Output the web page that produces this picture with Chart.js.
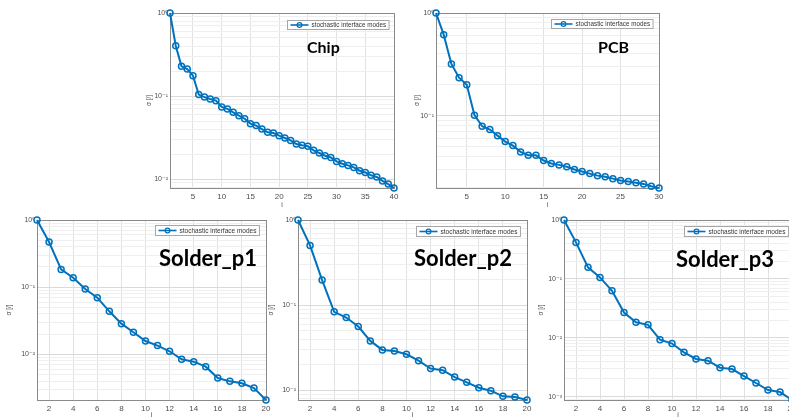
<!DOCTYPE html>
<html>
<head>
<meta charset="utf-8">
<script src="https://cdn.jsdelivr.net/npm/chart.js@4.4.1/dist/chart.umd.min.js"></script>
<style>
  html, body { margin: 0; padding: 0; background: #fff; width: 789px; height: 419px; overflow: hidden; position: relative; }
  canvas { position: absolute; }
</style>
</head>
<body>
<canvas id="chip"></canvas>
<canvas id="pcb"></canvas>
<canvas id="p1"></canvas>
<canvas id="p2"></canvas>
<canvas id="p3"></canvas>
<script>
// ---- data ----
const modeLabel = 'stochastic interface modes';
const sigmaTitle = 'σ [/]';
const indexTitle = 'i';
const panelNames = ['Chip', 'PCB', 'Solder_p1', 'Solder_p2', 'Solder_p3'];

const chipSigma = [1.0, 0.404, 0.228, 0.211, 0.176, 0.104, 0.097, 0.092, 0.088, 0.074,
  0.070, 0.0636, 0.058, 0.0533, 0.0465, 0.044, 0.040, 0.0365, 0.0358, 0.0333,
  0.0312, 0.0292, 0.0264, 0.0255, 0.0248, 0.0222, 0.0206, 0.0191, 0.0182, 0.0163,
  0.0153, 0.0146, 0.0138, 0.0126, 0.0120, 0.0111, 0.0106, 0.0095, 0.0087, 0.0078];
const pcbSigma = [1.0, 0.615, 0.319, 0.234, 0.200, 0.101, 0.0787, 0.0731, 0.0638, 0.0558,
  0.0510, 0.0443, 0.0411, 0.0410, 0.0365, 0.0341, 0.0331, 0.0318, 0.0298, 0.0285,
  0.0272, 0.0260, 0.0253, 0.0243, 0.0233, 0.0228, 0.0222, 0.0216, 0.0205, 0.0197];
const solderP1Sigma = [1.0, 0.47, 0.184, 0.138, 0.094, 0.0698, 0.0437, 0.0286, 0.0213, 0.0158,
  0.0135, 0.0111, 0.00843, 0.00778, 0.00655, 0.00444, 0.00396, 0.00370, 0.00315, 0.00209];
const solderP2Sigma = [1.0, 0.503, 0.197, 0.0835, 0.0716, 0.0561, 0.0380, 0.0298, 0.0290, 0.0265,
  0.0223, 0.0180, 0.0172, 0.0143, 0.0124, 0.0107, 0.0099, 0.0085, 0.00835, 0.00769];
const solderP3Sigma = [1.0, 0.417, 0.157, 0.106, 0.0628, 0.0269, 0.0184, 0.0166, 0.0093, 0.0080,
  0.00567, 0.00437, 0.00409, 0.00311, 0.00295, 0.00224, 0.00171, 0.00130, 0.00120, 0.00088];

const chipTicks = [5, 10, 15, 20, 25, 30, 35, 40];
const pcbTicks = [5, 10, 15, 20, 25, 30];
const solderTicks = [2, 4, 6, 8, 10, 12, 14, 16, 18, 20];

// ---- helpers ----
const SUP = { '-': '⁻', '0': '⁰', '1': '¹', '2': '²', '3': '³', '4': '⁴', '5': '⁵', '6': '⁶', '7': '⁷', '8': '⁸', '9': '⁹' };
function decadeLabel(v) {
  const lg = Math.log10(v);
  const e = Math.round(lg);
  if (Math.abs(lg - e) > 1e-6) return '';
  return '10' + String(e).split('').map(c => SUP[c]).join('');
}
function isDecade(v) {
  const lg = Math.log10(v);
  return Math.abs(lg - Math.round(lg)) < 1e-6;
}
function logTicks(scale) {
  const lo = scale.min, hi = scale.max;
  const out = [];
  for (let k = Math.floor(Math.log10(lo)); k <= Math.ceil(Math.log10(hi)); k++) {
    for (let m = 1; m <= 9; m++) {
      const v = m * Math.pow(10, k);
      if (v >= lo * (1 - 1e-9) && v <= hi * (1 + 1e-9)) out.push({ value: v });
    }
  }
  scale.ticks = out;
}

const BLUE = '#0072BD';
const AXIS = '#8a8a8a';
const TEXT = '#4d4d4d';

// axes box, panel name and in-plot legend
const panelDecor = {
  id: 'panelDecor',
  beforeDatasetsDraw(chart) {
    const { ctx, chartArea: a } = chart;
    ctx.save();
    ctx.strokeStyle = AXIS;
    ctx.lineWidth = 1;
    ctx.strokeRect(Math.round(a.left) + 0.5, Math.round(a.top) + 0.5,
      Math.round(a.right - a.left), Math.round(a.bottom - a.top));
    ctx.restore();
  },
  afterDatasetsDraw(chart, args, opts) {
    const { ctx, chartArea: a } = chart;
    ctx.save();
    // legend box
    ctx.font = opts.legendFont + 'px "Liberation Sans", Arial, sans-serif';
    const tw = ctx.measureText(modeLabel).width;
    const bw = tw + 27, bh = opts.legendH;
    const bx = Math.round(a.right - opts.legendRight - bw) + 0.5;
    const by = Math.round(a.top + opts.legendTop) + 0.5;
    ctx.fillStyle = '#fff';
    ctx.fillRect(bx, by, bw, bh);
    ctx.strokeStyle = '#a6a6a6';
    ctx.lineWidth = 1;
    ctx.strokeRect(bx, by, bw, bh);
    const my = by + bh / 2;
    ctx.strokeStyle = BLUE;
    ctx.lineWidth = 1.6;
    ctx.beginPath();
    ctx.moveTo(bx + 3, my);
    ctx.lineTo(bx + 21, my);
    ctx.stroke();
    ctx.lineWidth = 1.2;
    ctx.beginPath();
    ctx.arc(bx + 12, my, 2.4, 0, Math.PI * 2);
    ctx.stroke();
    ctx.fillStyle = '#333';
    ctx.textBaseline = 'middle';
    ctx.textAlign = 'left';
    ctx.fillText(modeLabel, bx + 24, my + 0.5);
    // panel name
    ctx.font = 'bold ' + opts.nameSize + 'px Lato, "Open Sans", sans-serif';
    ctx.fillStyle = '#000';
    ctx.textBaseline = 'alphabetic';
    ctx.fillText(opts.name, a.left + opts.nameX, a.top + opts.nameBase);
    ctx.restore();
  }
};

function makePanel(id, sigma, xTicks, name, geo) {
  const cv = document.getElementById(id);
  cv.width = geo.w; cv.height = geo.h;
  cv.style.left = geo.x + 'px';
  cv.style.top = geo.y + 'px';
  cv.style.width = geo.w + 'px';
  cv.style.height = geo.h + 'px';
  new Chart(cv, {
    type: 'line',
    data: {
      datasets: [{
        label: modeLabel,
        data: sigma.map((v, i) => ({ x: i + 1, y: v })),
        borderColor: BLUE,
        borderWidth: 2,
        tension: 0,
        pointStyle: 'circle',
        pointRadius: 3,
        pointBorderWidth: 1.5,
        pointBorderColor: BLUE,
        pointBackgroundColor: 'rgba(0,0,0,0)',
        clip: false
      }]
    },
    options: {
      responsive: false,
      animation: false,
      events: [],
      layout: { padding: { top: geo.padTop, right: geo.padRight, left: 0, bottom: 0 } },
      plugins: {
        legend: { display: false },
        tooltip: { enabled: false },
        panelDecor: {
          name: name, nameSize: geo.nameSize, nameX: geo.nameX, nameBase: geo.nameBase,
          legendFont: geo.legendFont, legendH: geo.legendH, legendTop: geo.legendTop, legendRight: geo.legendRight
        }
      },
      scales: {
        x: {
          type: 'linear',
          min: 1,
          max: sigma.length,
          afterBuildTicks: s => { s.ticks = xTicks.map(v => ({ value: v })); },
          afterFit: s => { s.height = geo.xH; },
          ticks: { autoSkip: false, maxRotation: 0, padding: 4, color: TEXT,
            font: { family: '"Liberation Sans", Arial, sans-serif', size: 8 } },
          grid: { color: '#e2e2e2', lineWidth: 1, drawTicks: false },
          border: { display: false },
          title: { display: true, text: indexTitle, color: TEXT, padding: { top: 0, bottom: 0 },
            font: { family: '"Liberation Sans", Arial, sans-serif', size: 7 } }
        },
        y: {
          type: 'logarithmic',
          min: sigma[sigma.length - 1],
          max: 1,
          afterBuildTicks: logTicks,
          afterFit: s => { s.width = geo.yW; },
          ticks: { autoSkip: false, padding: 2, color: TEXT,
            font: { family: '"Liberation Sans", "DejaVu Sans", sans-serif', size: 7 },
            callback: v => decadeLabel(v) },
          grid: {
            color: c => isDecade(c.tick.value) ? '#dadada' : '#efefef',
            lineWidth: 1, drawTicks: false
          },
          border: { display: false },
          title: { display: true, text: sigmaTitle, color: TEXT, padding: { top: 0, bottom: 0 },
            font: { family: '"Liberation Sans", Arial, sans-serif', size: 6.5 } }
        }
      }
    },
    plugins: [panelDecor]
  });
}

makePanel('chip', chipSigma, chipTicks, panelNames[0],
  { x: 145, y: 0, w: 260, h: 209, padTop: 13, padRight: 11, yW: 25, xH: 21,
    nameSize: 16, nameX: 137, nameBase: 40, legendFont: 6.3, legendH: 9, legendTop: 7, legendRight: 5 });
makePanel('pcb', pcbSigma, pcbTicks, panelNames[1],
  { x: 413, y: 0, w: 257, h: 209, padTop: 13, padRight: 11, yW: 23, xH: 21,
    nameSize: 16, nameX: 162, nameBase: 40, legendFont: 6.3, legendH: 9, legendTop: 6, legendRight: 6 });
makePanel('p1', solderP1Sigma, solderTicks, panelNames[2],
  { x: 5, y: 207, w: 270, h: 212, padTop: 13, padRight: 9, yW: 32, xH: 19,
    nameSize: 22, nameX: 122, nameBase: 46, legendFont: 6.5, legendH: 10, legendTop: 5, legendRight: 7 });
makePanel('p2', solderP2Sigma, solderTicks, panelNames[3],
  { x: 267, y: 207, w: 269, h: 212, padTop: 13, padRight: 9, yW: 31, xH: 19,
    nameSize: 22, nameX: 116, nameBase: 46, legendFont: 6.5, legendH: 10, legendTop: 6, legendRight: 7 });
makePanel('p3', solderP3Sigma, solderTicks, panelNames[4],
  { x: 537, y: 207, w: 265, h: 212, padTop: 13, padRight: 10, yW: 27, xH: 19,
    nameSize: 22, nameX: 112, nameBase: 47, legendFont: 6.5, legendH: 10, legendTop: 6, legendRight: 4 });
</script>
</body>
</html>
